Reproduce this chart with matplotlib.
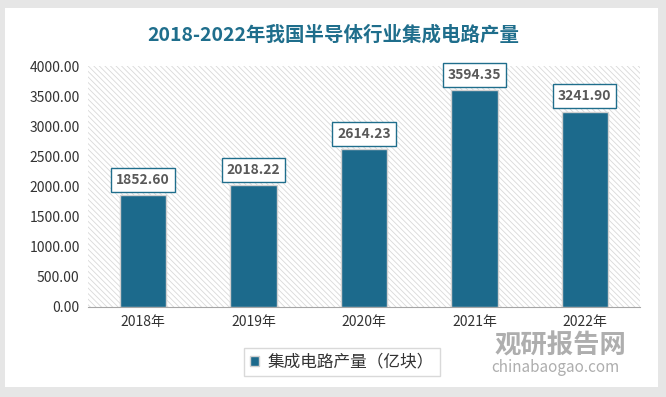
import matplotlib.pyplot as plt
from matplotlib.patches import Rectangle

plt.rcParams['font.family'] = ['Noto Sans CJK SC', 'DejaVu Sans']
plt.rcParams['hatch.linewidth'] = 0.6

years = ["2018年", "2019年", "2020年", "2021年", "2022年"]
output = [1852.60, 2018.22, 2614.23, 3594.35, 3241.90]
series_name = "集成电路产量（亿块）"
title = "2018-2022年我国半导体行业集成电路产量"

W, H = 666, 397
fig = plt.figure(figsize=(W / 100, H / 100), dpi=100)
fig.patch.set_facecolor("#e6e6e6")

# white card behind everything
card_ax = fig.add_axes([5 / W, 10 / H, 653 / W, 379 / H], zorder=0)
card_ax.set_facecolor("white")
card_ax.set_xticks([])
card_ax.set_yticks([])
for s in card_ax.spines.values():
    s.set_visible(False)

ax = fig.add_axes([88 / W, (H - 307) / H, 552 / W, 241 / H], zorder=2)
ax.set_facecolor("white")
bg = Rectangle((0, 0), 1, 1, transform=ax.transAxes, facecolor="white",
               edgecolor="#d9d9d9", hatch="\\\\\\\\\\\\", linewidth=0, zorder=0)
ax.add_patch(bg)

bar_color = "#1c6a8c"
x = range(len(years))
bars = ax.bar(x, output, width=0.42, color=bar_color, edgecolor="#d0d0d0",
              linewidth=1, zorder=3, label=series_name)

for xi, v in zip(x, output):
    ax.text(xi, v + 140, f"{v:.2f}", ha="center", va="bottom", fontsize=10,
            fontweight="bold", color="#595959", zorder=5,
            bbox=dict(boxstyle="square,pad=0.35", facecolor="white",
                      edgecolor="#1f6e8c", linewidth=1))

ax.set_xlim(-0.5, len(years) - 0.5)
ax.set_ylim(0, 4000)
ax.set_yticks([0, 500, 1000, 1500, 2000, 2500, 3000, 3500, 4000])
ax.set_yticklabels([f"{t:.2f}" for t in ax.get_yticks()], fontsize=10, color="#333333")
ax.set_xticks(list(x))
ax.set_xticklabels(years, fontsize=10, color="#333333")
ax.tick_params(axis="both", length=0, pad=6)
for s in ["top", "right", "left"]:
    ax.spines[s].set_visible(False)
ax.spines["bottom"].set_color("#a6a6a6")

fig.text(333 / W, 1 - 35 / H, title, ha="center", va="center", fontsize=14,
         fontweight="bold", color="#1f6e8c")

leg = fig.legend(handles=[bars], labels=[series_name], loc="center",
                 bbox_to_anchor=(342 / W, 1 - 362 / H), fontsize=12,
                 frameon=True, fancybox=False, edgecolor="#d0d0d0",
                 handlelength=0.55, handleheight=0.55, handletextpad=0.5,
                 borderpad=0.35, borderaxespad=0)
leg.get_texts()[0].set_color("#333333")
leg.set_zorder(5)

# watermark
fig.text(560 / W, 1 - 346 / H, "观研报告网", ha="center", va="center", fontsize=19,
         fontweight="bold", color="#9a9a9a", alpha=0.8, zorder=6)
fig.text(555 / W, 1 - 368 / H, "chinabaogao.com", ha="center", va="center",
         fontsize=11, color="#9a9a9a", alpha=0.8, zorder=6)

fig.savefig("out.png", dpi=100, facecolor=fig.get_facecolor())
